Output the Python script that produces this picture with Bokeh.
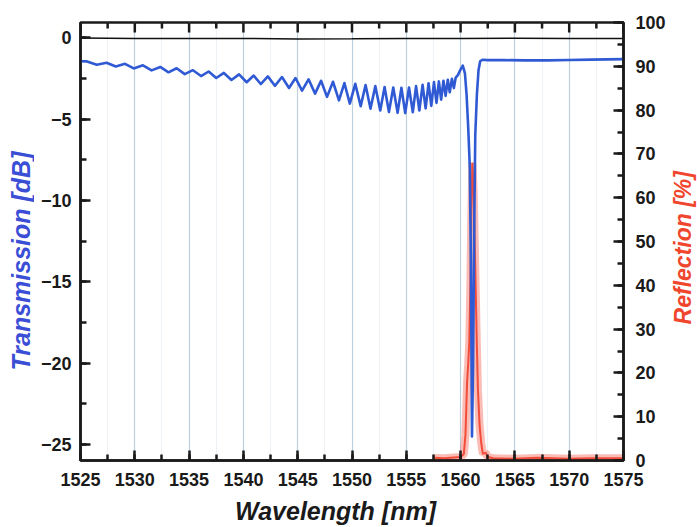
import math
from bokeh.plotting import figure
from bokeh.layouts import row, column
from bokeh.models import Range1d, LinearAxis, SingleIntervalTicker, Label
from bokeh.embed import file_html
from bokeh.resources import INLINE

# ---------------- data ----------------
x_ticks = [1525, 1530, 1535, 1540, 1545, 1550, 1555, 1560, 1565, 1570, 1575]
x_minor = [1527.5, 1532.5, 1537.5, 1542.5, 1547.5, 1552.5, 1557.5, 1562.5,
           1567.5, 1572.5]
left_ticks = [0, -5, -10, -15, -20, -25]
right_ticks = [0, 10, 20, 30, 40, 50, 60, 70, 80, 90, 100]

# Transmission [dB] (blue trace)
trans_wl = [
    1525.0, 1525.6, 1526.5, 1527.4, 1528.25, 1529.1, 1529.9, 1530.75, 1531.55,
    1532.35, 1533.1, 1533.85, 1534.6, 1535.35, 1536.1, 1536.8, 1537.5, 1538.2,
    1538.9, 1539.6, 1540.3, 1540.95, 1541.6, 1542.25, 1542.9, 1543.55, 1544.2,
    1544.8, 1545.4, 1546.0, 1546.6, 1547.15, 1547.7, 1548.25, 1548.8, 1549.3,
    1549.8, 1550.3, 1550.8, 1551.25, 1551.7, 1552.15, 1552.6, 1553.0, 1553.4,
    1553.8, 1554.2, 1554.55, 1554.9, 1555.25, 1555.6, 1555.9, 1556.2, 1556.5,
    1556.78, 1557.05, 1557.3, 1557.55, 1557.78, 1558.0, 1558.21, 1558.42,
    1558.62, 1558.82, 1559.0, 1559.2, 1559.38, 1559.55, 1559.75, 1560.0,
    1560.2, 1560.4, 1560.55, 1560.7, 1560.85, 1560.95, 1561.05, 1561.15,
    1561.25, 1561.35, 1561.5, 1561.65, 1561.8, 1562.0, 1562.5, 1564.0, 1566.0,
    1568.0, 1570.0, 1572.0, 1575.0]
trans_db = [
    -1.45, -1.46, -1.66, -1.54, -1.77, -1.61, -1.89, -1.70, -2.01,
    -1.80, -2.13, -1.88, -2.24, -2.00, -2.36, -2.08, -2.48, -2.17,
    -2.60, -2.26, -2.74, -2.33, -2.85, -2.38, -2.96, -2.42, -3.09,
    -2.48, -3.25, -2.56, -3.44, -2.65, -3.64, -2.71, -3.85, -2.79,
    -4.05, -2.84, -4.21, -2.91, -4.36, -2.98, -4.48, -3.03, -4.57,
    -3.06, -4.62, -3.08, -4.64, -3.06, -4.58, -2.98, -4.48, -2.90,
    -4.35, -2.80, -4.19, -2.73, -4.01, -2.69, -3.81, -2.65,
    -3.58, -2.59, -3.36, -2.53, -3.10, -2.45, -2.30, -1.95,
    -1.72, -2.20, -3.50, -5.50, -8.00, -14.0, -24.5, -20.0,
    -12.0, -6.00, -3.50, -2.00, -1.45, -1.36, -1.38, -1.38, -1.40,
    -1.40, -1.37, -1.35, -1.32]

# Reflection [%] (red trace)
refl_wl = [1557.5, 1558.5, 1560.0, 1560.3, 1560.45, 1560.6, 1560.7, 1560.8,
           1560.9, 1560.98, 1561.08, 1561.2, 1561.3, 1561.4, 1561.5,
           1561.6, 1561.75, 1561.9, 1562.05, 1562.3, 1562.5, 1563.0, 1565.0,
           1567.0, 1570.0, 1572.0, 1575.0]
refl_pct = [0.6, 0.5, 0.8, 1.5, 6.0, 18.0, 22.0, 27.0,
            40.0, 55.0, 68.0, 62.0, 50.0, 38.0, 26.0,
            16.0, 8.0, 4.0, 1.5, 1.8, 0.8, 0.5, 0.4,
            0.6, 0.4, 0.5, 0.5]

# 0 dB reference (black trace)
ref_wl = [1525, 1530, 1540, 1545, 1550, 1555, 1560, 1565, 1570, 1575]
ref_db = [-0.02, -0.05, -0.05, -0.08, -0.07, -0.05, -0.05, -0.04, -0.05, -0.05]

# axis ranges and titles
x_lo, x_hi = 1525, 1575
db_lo, db_hi = -25.98, 0.93
pct_lo, pct_hi = 0, 100
x_title = "Wavelength [nm]"
left_title = "Transmission [dB]"
right_title = "Reflection [%]"

# ---------------- layout sizes (pixels) ----------------
LEFT_W, MAIN_W, RIGHT_W = 34, 634, 29
MAIN_H, BOTTOM_H = 494, 33

FONT = "Liberation Sans"
AX_COL = "#1a1a1a"
BLUE = "#2f5ad4"
RED = "#f0402c"

p = figure(width=MAIN_W, height=MAIN_H, output_backend="svg",
           toolbar_location=None,
           x_range=Range1d(x_lo, x_hi), y_range=Range1d(db_lo, db_hi),
           min_border_left=46, min_border_right=45, min_border_top=22,
           min_border_bottom=34, background_fill_color="white",
           border_fill_color="white")
p.extra_y_ranges = {"refl": Range1d(pct_lo, pct_hi)}

p.outline_line_color = AX_COL
p.outline_line_width = 2.5

# grids
p.ygrid.visible = False
p.xgrid.ticker = SingleIntervalTicker(interval=5, num_minor_ticks=2)
p.xgrid.grid_line_color = "#bccfdf"
p.xgrid.grid_line_width = 1.2
p.xgrid.minor_grid_line_color = "#edf2f7"
p.xgrid.minor_grid_line_width = 1


def style_axis(ax, ticker):
    ax.ticker = ticker
    ax.axis_line_color = AX_COL
    ax.axis_line_width = 2.5
    ax.major_tick_line_color = AX_COL
    ax.major_tick_line_width = 2.5
    ax.minor_tick_line_color = AX_COL
    ax.minor_tick_line_width = 2.5
    ax.major_tick_in = 10
    ax.major_tick_out = 0
    ax.minor_tick_in = 6
    ax.minor_tick_out = 0
    ax.major_label_text_font = FONT
    ax.major_label_text_font_style = "bold"
    ax.major_label_text_font_size = "18px"
    ax.major_label_text_color = AX_COL


xb = p.xaxis[0]
style_axis(xb, SingleIntervalTicker(interval=5, num_minor_ticks=2))
xb.major_label_standoff = 12

yl = p.yaxis[0]
style_axis(yl, SingleIntervalTicker(interval=5, num_minor_ticks=2))
yl.major_label_standoff = 9

yr = LinearAxis(y_range_name="refl")
style_axis(yr, SingleIntervalTicker(interval=10, num_minor_ticks=2))
yr.major_label_standoff = 12
p.add_layout(yr, "right")

# top-edge tick marks (mirror of the bottom axis ticks)
p.scatter(x_ticks, [db_hi] * len(x_ticks), marker="dash", angle=math.pi / 2,
          size=20, line_color=AX_COL, line_width=2.5)
p.scatter(x_minor, [db_hi] * len(x_minor), marker="dash", angle=math.pi / 2,
          size=12, line_color=AX_COL, line_width=2.5)

# traces
p.line(ref_wl, ref_db, line_color="#111111", line_width=1.6)
p.line(refl_wl, refl_pct, y_range_name="refl", line_color=RED,
       line_width=8, line_alpha=0.35)
p.line(refl_wl, refl_pct, y_range_name="refl", line_color=RED,
       line_width=2, line_alpha=0.9)
p.line(trans_wl, trans_db, line_color=BLUE, line_width=2.6,
       line_join="round")


def title_panel(w, h, text, x, y, angle, color, size):
    f = figure(width=w, height=h, output_backend="svg", toolbar_location=None,
               x_range=Range1d(0, w), y_range=Range1d(0, h),
               x_axis_type=None, y_axis_type=None,
               min_border_left=0, min_border_right=0, min_border_top=0,
               min_border_bottom=0, background_fill_color="white",
               border_fill_color="white")
    f.outline_line_color = None
    f.grid.visible = False
    f.add_layout(Label(x=x, y=y, text=text, angle=angle, text_align="center",
                       text_baseline="middle", text_font=FONT,
                       text_font_style="bold italic", text_font_size=size,
                       text_color=color))
    return f


left_p = title_panel(LEFT_W, MAIN_H, left_title, 20, MAIN_H - 269,
                     math.pi / 2, "#3a4ed6", "25px")
right_p = title_panel(RIGHT_W, MAIN_H, right_title,
                      682 - LEFT_W - MAIN_W, MAIN_H - 254,
                      math.pi / 2, "#f0462e", "23px")
bottom_p = title_panel(LEFT_W + MAIN_W + RIGHT_W, BOTTOM_H, x_title,
                       335, BOTTOM_H - (510 - MAIN_H), 0, AX_COL, "25px")

layout = column(row(left_p, p, right_p, spacing=0), bottom_p, spacing=0)

open("out.html", "w").write(file_html(layout, INLINE))
